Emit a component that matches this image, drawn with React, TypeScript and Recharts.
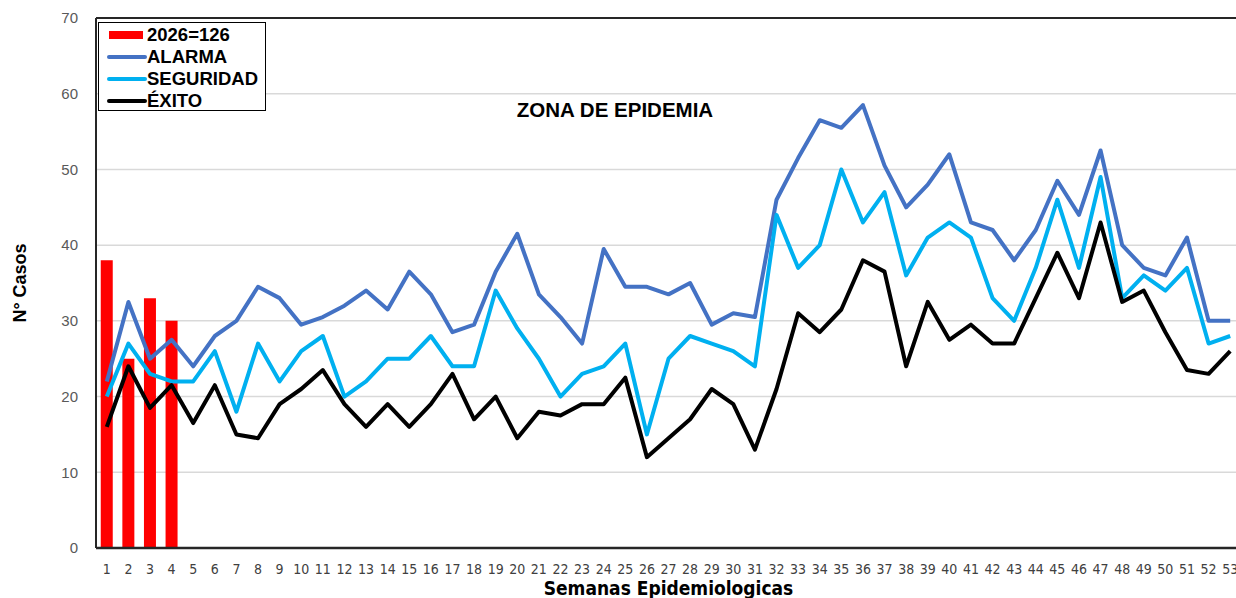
// Canal endémico: casos 2026 (barras) frente a las curvas de alarma, seguridad y éxito.
import React from 'react';
import { ComposedChart, Bar, Line, XAxis, YAxis, CartesianGrid, ReferenceLine, Label } from 'recharts';

const semanas = [
  '1', '2', '3', '4', '5', '6', '7', '8', '9', '10', '11', '12', '13', '14', '15', '16', '17', '18',
  '19', '20', '21', '22', '23', '24', '25', '26', '27', '28', '29', '30', '31', '32', '33', '34', '35',
  '36', '37', '38', '39', '40', '41', '42', '43', '44', '45', '46', '47', '48', '49', '50', '51', '52', '53',
];

// Casos 2026 (solo semanas transcurridas)
const casos2026 = [38, 25, 33, 30];

const alarma = [
  22, 32.5, 25, 27.5, 24, 28, 30, 34.5, 33, 29.5, 30.5, 32, 34, 31.5, 36.5, 33.5, 28.5, 29.5,
  36.5, 41.5, 33.5, 30.5, 27, 39.5, 34.5, 34.5, 33.5, 35, 29.5, 31, 30.5, 46, 51.5, 56.5, 55.5,
  58.5, 50.5, 45, 48, 52, 43, 42, 38, 42, 48.5, 44, 52.5, 40, 37, 36, 41, 30, 30,
];

const seguridad = [
  20, 27, 23, 22, 22, 26, 18, 27, 22, 26, 28, 20, 22, 25, 25, 28, 24, 24,
  34, 29, 25, 20, 23, 24, 27, 15, 25, 28, 27, 26, 24, 44, 37, 40, 50,
  43, 47, 36, 41, 43, 41, 33, 30, 37, 46, 37, 49, 33, 36, 34, 37, 27, 28,
];

const exito = [
  16, 24, 18.5, 21.5, 16.5, 21.5, 15, 14.5, 19, 21, 23.5, 19, 16, 19, 16, 19, 23, 17,
  20, 14.5, 18, 17.5, 19, 19, 22.5, 12, 14.5, 17, 21, 19, 13, 21, 31, 28.5, 31.5,
  38, 36.5, 24, 32.5, 27.5, 29.5, 27, 27, 33, 39, 33, 43, 32.5, 34, 28.5, 23.5, 23, 26,
];

const yTicks = [0, 10, 20, 30, 40, 50, 60, 70];

const series = [
  { key: 'casos', name: '2026=126', color: '#FF0000', bar: true },
  { key: 'alarma', name: 'ALARMA', color: '#4472C4', bar: false },
  { key: 'seguridad', name: 'SEGURIDAD', color: '#00B0F0', bar: false },
  { key: 'exito', name: 'ÉXITO', color: '#000000', bar: false },
];

const data = semanas.map((semana, i) => ({
  semana,
  casos: casos2026[i] ?? null,
  alarma: alarma[i],
  seguridad: seguridad[i],
  exito: exito[i],
}));

const narrow = "'Liberation Sans Narrow', 'DejaVu Sans Condensed', 'Liberation Sans', sans-serif";
const sans = "'Liberation Sans', Arial, sans-serif";
const axisColor = '#262626';

const LegendBox: React.FC = () => (
  <div
    style={{
      position: 'absolute',
      left: 98,
      top: 22,
      width: 168,
      height: 89,
      border: '1.5px solid #000',
      background: '#fff',
      padding: '1px 0 0 8px',
      boxSizing: 'border-box',
    }}
  >
    {series.map((s) => (
      <div key={s.key} style={{ display: 'flex', alignItems: 'center', height: 22 }}>
        <svg width={40} height={10} style={{ flex: 'none' }}>
          {s.bar ? (
            <rect x={2} y={1} width={34} height={8} fill={s.color} />
          ) : (
            <line x1={2} y1={5} x2={38} y2={5} stroke={s.color} strokeWidth={4} strokeLinecap="round" />
          )}
        </svg>
        <span style={{ fontFamily: sans, fontWeight: 700, fontSize: 18.5, color: '#000' }}>{s.name}</span>
      </div>
    ))}
  </div>
);

export default function App() {
  return (
    <div
      style={{
        position: 'absolute',
        left: 0,
        top: 0,
        width: 1236,
        height: 598,
        overflow: 'hidden',
        background: '#fff',
      }}
    >
      <ComposedChart
        width={1250}
        height={598}
        data={data}
        margin={{ top: 18, right: 9, bottom: 0, left: 0 }}
        barCategoryGap="22%"
      >
        <CartesianGrid vertical={false} stroke="#d9d9d9" strokeWidth={1.5} />
        <XAxis
          dataKey="semana"
          interval={0}
          height={50}
          tickLine={false}
          tickMargin={10}
          axisLine={{ stroke: axisColor, strokeWidth: 2.5 }}
          tick={{ fontSize: 14, fill: '#404040', fontFamily: narrow }}
        >
          <Label
            value="Semanas Epidemiologicas"
            position="insideBottom"
            offset={3}
            style={{ fontFamily: narrow, fontWeight: 700, fontSize: 19, fill: '#000' }}
          />
        </XAxis>
        <YAxis
          width={96}
          domain={[0, 70]}
          ticks={yTicks}
          tickLine={false}
          tickMargin={12}
          axisLine={{ stroke: axisColor, strokeWidth: 2 }}
          tick={{ fontSize: 15, fill: '#595959', fontFamily: sans }}
        >
          <Label
            content={({ viewBox }: any) => {
              const cx = 20;
              const cy = viewBox.y + viewBox.height / 2;
              return (
                <text
                  x={cx}
                  y={cy}
                  transform={`rotate(-90 ${cx} ${cy})`}
                  textAnchor="middle"
                  dominantBaseline="central"
                  style={{ fontFamily: sans, fontWeight: 700, fontSize: 18, fill: '#000' }}
                >
                  N° Casos
                </text>
              );
            }}
          />
        </YAxis>
        <ReferenceLine y={70} stroke={axisColor} strokeWidth={2} />
        <Bar dataKey="casos" name="2026=126" fill="#FF0000" isAnimationActive={false} />
        {series
          .filter((s) => !s.bar)
          .map((s) => (
            <Line
              key={s.key}
              type="linear"
              dataKey={s.key}
              name={s.name}
              stroke={s.color}
              strokeWidth={4}
              strokeLinejoin="round"
              dot={false}
              activeDot={false}
              isAnimationActive={false}
            />
          ))}
      </ComposedChart>
      <LegendBox />
      <div
        style={{
          position: 'absolute',
          left: 505,
          top: 98,
          width: 220,
          textAlign: 'center',
          fontFamily: sans,
          fontWeight: 700,
          fontSize: 20.5,
          color: '#000',
          whiteSpace: 'nowrap',
        }}
      >
        ZONA DE EPIDEMIA
      </div>
    </div>
  );
}
